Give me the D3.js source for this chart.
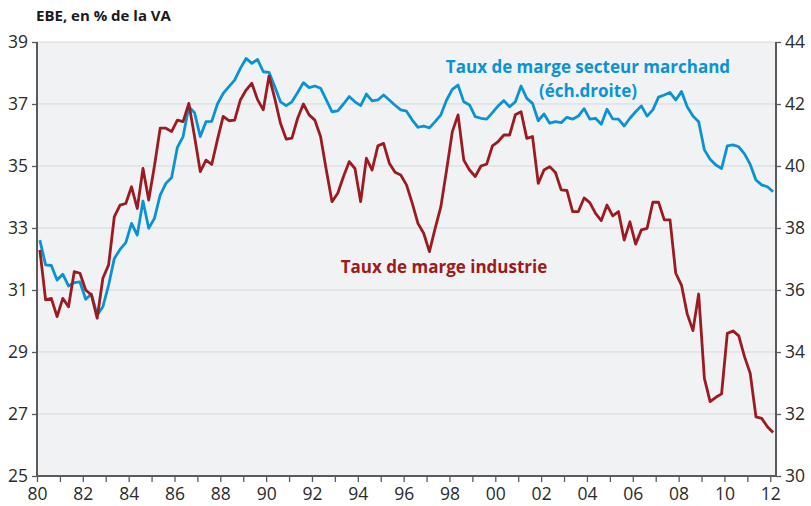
<!DOCTYPE html>
<html>
<head>
<meta charset="utf-8">
<script src="https://cdn.jsdelivr.net/npm/d3@7"></script>
<style>
  body { margin: 0; background: #fff; }
  text { font-family: "Open Sans", "Noto Sans", sans-serif; }
</style>
</head>
<body>
<div id="chart"></div>
<script>
// données trimestrielles 1980T1 - 2012T1
const startYear = 1980;

// taux de marge industrie (éch. gauche)
const industrie = [
  32.29, 30.68, 30.73, 30.14, 30.73, 30.46, 31.59, 31.54, 31.0, 30.84,
  30.09, 31.38, 31.81, 33.37, 33.74, 33.79, 34.33, 33.63, 34.92, 33.90,
  35.0, 36.22, 36.22, 36.11, 36.48, 36.43, 37.02, 35.95, 34.82, 35.19,
  35.05, 35.85, 36.6, 36.46, 36.48, 37.13, 37.45, 37.67, 37.14, 36.81,
  37.90, 37.18, 36.38, 35.87, 35.9, 36.54, 37.0, 36.65, 36.48, 35.95,
  34.87, 33.85, 34.12, 34.66, 35.14, 34.92, 33.85, 35.25, 34.87, 35.65,
  35.73, 35.09, 34.8, 34.71, 34.39, 33.80, 33.15, 32.83, 32.24, 32.99,
  33.69, 34.87, 36.11, 36.65, 35.19, 34.87, 34.66, 35.0, 35.06, 35.65,
  35.79, 36.0, 36.0, 36.65, 36.75, 35.89, 35.95, 34.44, 34.87, 34.98,
  34.79, 34.23, 34.21, 33.53, 33.53, 33.97, 33.82, 33.47, 33.24, 33.74,
  33.39, 33.53, 32.61, 33.20, 32.48, 32.94, 32.99, 33.83, 33.83, 33.26,
  33.26, 31.54, 31.16, 30.23, 29.69, 30.87, 28.15, 27.40, 27.54, 27.65,
  29.60, 29.68, 29.52, 28.85, 28.31, 26.91, 26.86, 26.59, 26.40
];

// taux de marge secteur marchand (éch. droite)
const marchand = [
  37.61, 36.81, 36.79, 36.32, 36.51, 36.13, 36.24, 36.26, 35.70, 35.87,
  35.19, 35.46, 36.16, 37.02, 37.31, 37.53, 38.15, 37.77, 38.87, 37.99,
  38.31, 39.06, 39.44, 39.63, 40.60, 40.95, 41.91, 41.72, 40.95, 41.43,
  41.44, 42.0, 42.34, 42.56, 42.77, 43.15, 43.47, 43.31, 43.44, 43.04,
  43.02, 42.56, 42.07, 41.95, 42.07, 42.37, 42.69, 42.53, 42.58, 42.51,
  42.13, 41.75, 41.78, 42.0, 42.24, 42.07, 41.95, 42.32, 42.10, 42.13,
  42.29, 42.13, 41.96, 41.81, 41.77, 41.48, 41.25, 41.29, 41.23, 41.43,
  41.65, 42.13, 42.47, 42.61, 42.07, 41.97, 41.59, 41.54, 41.51, 41.72,
  41.94, 42.11, 41.91, 42.07, 42.58, 42.18, 42.02, 41.46, 41.68, 41.38,
  41.43, 41.40, 41.57, 41.51, 41.61, 41.85, 41.51, 41.54, 41.35, 41.83,
  41.52, 41.51, 41.29, 41.54, 41.75, 41.94, 41.61, 41.81, 42.22, 42.29,
  42.37, 42.13, 42.40, 41.91, 41.61, 41.43, 40.52, 40.22, 40.03, 39.92,
  40.65, 40.68, 40.62, 40.39, 40.05, 39.55, 39.39, 39.33, 39.17
];

const leftTicks = [25, 27, 29, 31, 33, 35, 37, 39];
const rightTicks = [30, 32, 34, 36, 38, 40, 42, 44];
const yearTicks = d3.range(1980, 2013);          // une graduation par an
const yearLabels = d3.range(1980, 2013, 2);      // un libellé tous les 2 ans

drawChart();

function drawChart() {
  const width = 811, height = 506;
  const margin = { top: 42, right: 35, bottom: 30, left: 37 };

  const blue = "#0a93d4";
  const red = "#9b1b21";
  const axisCol = "#5a5a5a";

  const svg = d3.select("#chart").append("svg")
    .attr("width", width)
    .attr("height", height);

  const x = d3.scaleLinear()
    .domain([1980, 2012.25])
    .range([margin.left, width - margin.right]);
  const yL = d3.scaleLinear()
    .domain([25, 39])
    .range([height - margin.bottom, margin.top]);
  const yR = d3.scaleLinear()
    .domain([30, 44])
    .range([height - margin.bottom, margin.top]);

  // fond gris de la zone de tracé
  svg.append("rect")
    .attr("x", x.range()[0])
    .attr("y", yL.range()[1])
    .attr("width", x.range()[1] - x.range()[0])
    .attr("height", yL.range()[0] - yL.range()[1])
    .attr("fill", "#f1f2f4");

  // quadrillage horizontal
  svg.append("g")
    .selectAll("line")
    .data(leftTicks.slice(1))
    .join("line")
    .attr("x1", x.range()[0])
    .attr("x2", x.range()[1])
    .attr("y1", d => yL(d))
    .attr("y2", d => yL(d))
    .attr("stroke", "#d6d7db")
    .attr("stroke-width", 1);

  // axe gauche
  const axL = svg.append("g")
    .attr("transform", `translate(${margin.left},0)`)
    .call(d3.axisLeft(yL).tickValues(leftTicks).tickSize(5).tickPadding(4));
  // axe droit
  const axR = svg.append("g")
    .attr("transform", `translate(${width - margin.right},0)`)
    .call(d3.axisRight(yR).tickValues(rightTicks).tickSize(5).tickPadding(4));
  // axe du temps
  const axB = svg.append("g")
    .attr("transform", `translate(0,${height - margin.bottom})`)
    .call(d3.axisBottom(x).tickValues(yearTicks).tickSize(6).tickPadding(6)
      .tickFormat(d => yearLabels.includes(d) ? String(d).slice(2) : ""));

  [axL, axR, axB].forEach(ax => {
    ax.select(".domain").attr("stroke", axisCol).attr("stroke-width", 2);
    ax.selectAll(".tick line").attr("stroke", axisCol).attr("stroke-width", 1.3);
    ax.selectAll("text")
      .attr("fill", "#2b2b2b")
      .style("font-size", "17.5px")
      .style("font-family", "'Open Sans', sans-serif");
  });
  axB.select(".domain").attr("d", `M${x.range()[0]},0H${x.range()[1]}`);
  axL.select(".domain").attr("d", `M0,${yL.range()[0]}V${yL.range()[1]}`);
  axR.select(".domain").attr("d", `M0,${yR.range()[0]}V${yR.range()[1]}`);
  // pas de texte vide sous les années impaires
  axB.selectAll(".tick text").filter(d => !yearLabels.includes(d)).remove();

  // courbes
  const quarter = i => startYear + i / 4 + 0.125;

  const lineL = d3.line()
    .x((d, i) => x(quarter(i)))
    .y(d => yL(d));
  const lineR = d3.line()
    .x((d, i) => x(quarter(i)))
    .y(d => yR(d));

  svg.append("path")
    .attr("fill", "none")
    .attr("stroke", blue)
    .attr("stroke-width", 2.8)
    .attr("stroke-linejoin", "round")
    .attr("d", lineR(marchand));

  svg.append("path")
    .attr("fill", "none")
    .attr("stroke", red)
    .attr("stroke-width", 2.8)
    .attr("stroke-linejoin", "round")
    .attr("d", lineL(industrie));

  // titre
  svg.append("text")
    .attr("x", 36)
    .attr("y", 21)
    .attr("fill", "#1a1a1a")
    .style("font-size", "15px")
    .style("font-weight", "bold")
    .text("EBE, en % de la VA");

  // libellés des séries
  svg.append("text")
    .attr("x", 588)
    .attr("y", 73)
    .attr("text-anchor", "middle")
    .attr("fill", blue)
    .style("font-size", "17px")
    .style("font-weight", "bold")
    .text("Taux de marge secteur marchand");
  svg.append("text")
    .attr("x", 588)
    .attr("y", 97)
    .attr("text-anchor", "middle")
    .attr("fill", blue)
    .style("font-size", "17px")
    .style("font-weight", "bold")
    .text("(éch.droite)");

  svg.append("text")
    .attr("x", 444)
    .attr("y", 273)
    .attr("text-anchor", "middle")
    .attr("fill", red)
    .style("font-size", "17px")
    .style("font-weight", "bold")
    .text("Taux de marge industrie");
}
</script>
</body>
</html>
